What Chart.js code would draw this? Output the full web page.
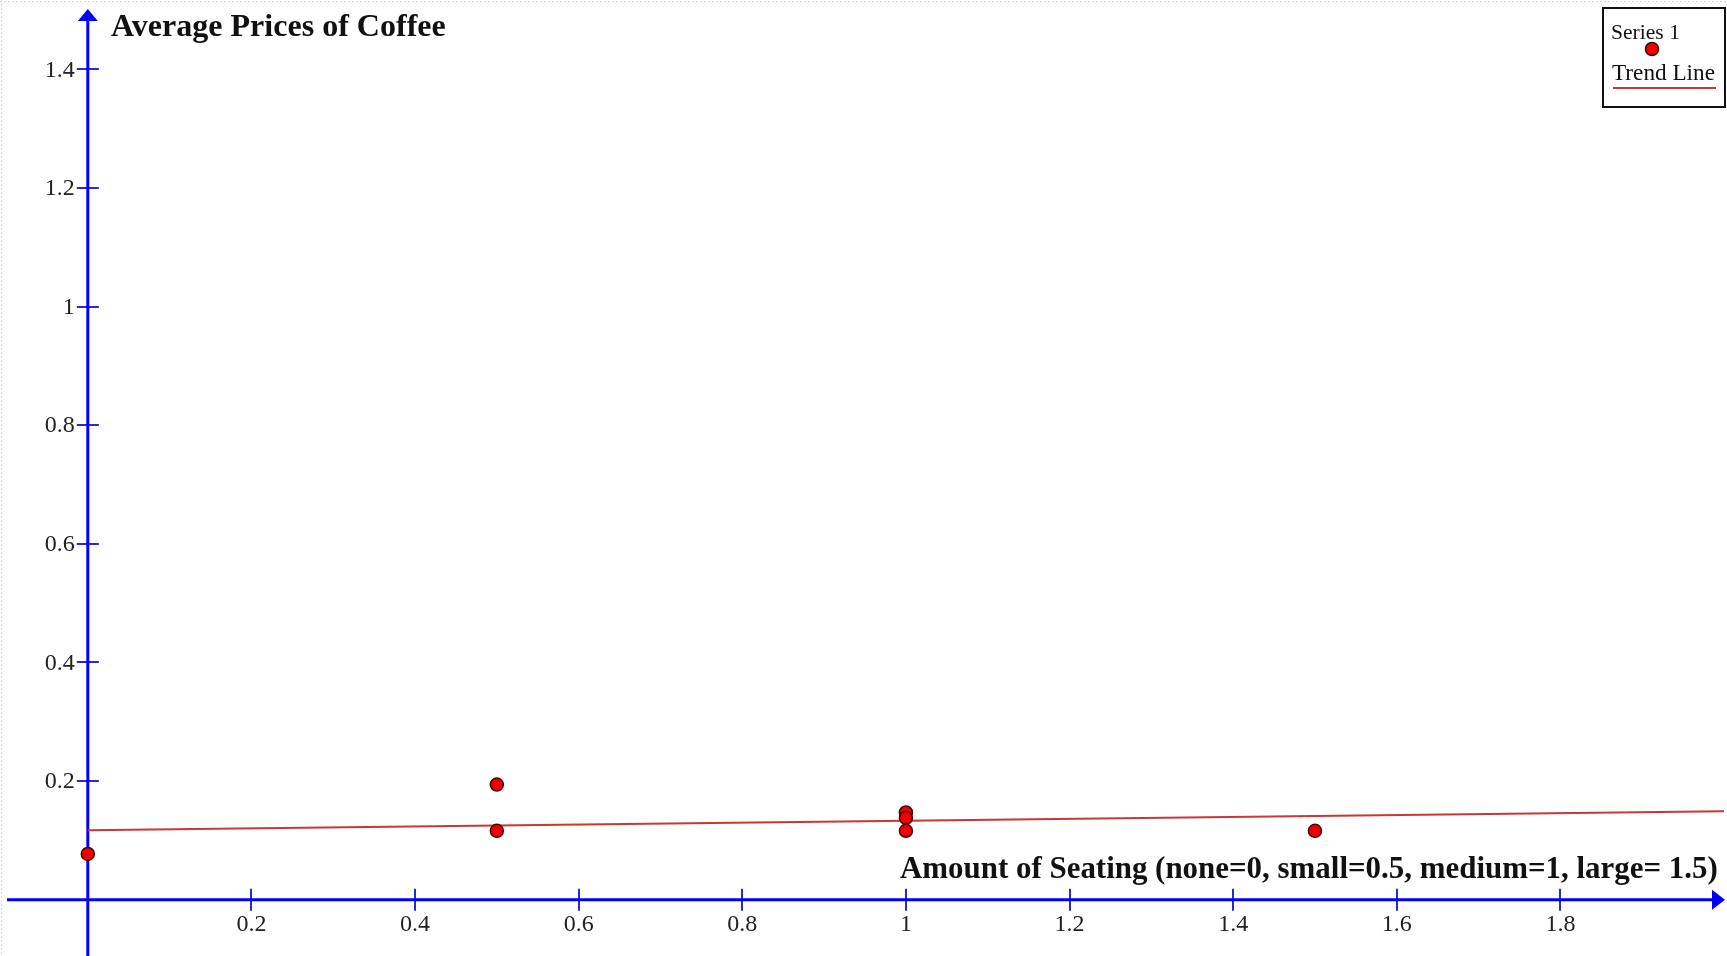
<!DOCTYPE html>
<html>
<head>
<meta charset="utf-8">
<script src="https://cdn.jsdelivr.net/npm/chart.js@4"></script>
<style>
html,body{margin:0;padding:0;background:#fff;overflow:hidden;}
#wrap{width:1727px;height:956px;position:relative;}
canvas{display:block;}
</style>
</head>
<body>
<div id="wrap"><canvas id="c" width="1727" height="956"></canvas></div>
<script>
// ---- data ----
const seatingX = [0, 0.5, 0.5, 1, 1, 1, 1.5];
const avgPrice = [0.077, 0.194, 0.116, 0.147, 0.138, 0.116, 0.116];
const trendX = [0, 2.0];
const trendY = [0.117, 0.149];
const xTicks = [0.2, 0.4, 0.6, 0.8, 1, 1.2, 1.4, 1.6, 1.8];
const yTicks = [0.2, 0.4, 0.6, 0.8, 1, 1.2, 1.4];
const xTickLabels = ['0.2', '0.4', '0.6', '0.8', '1', '1.2', '1.4', '1.6', '1.8'];
const yTickLabels = ['0.2', '0.4', '0.6', '0.8', '1', '1.2', '1.4'];
const yTitle = 'Average Prices of Coffee';
const xTitle = 'Amount of Seating (none=0, small=0.5, medium=1, large= 1.5)';
const seriesNames = ['Series 1', 'Trend Line'];

const pointData = seatingX.map((x, i) => ({x: x, y: avgPrice[i]}));
const trendData = trendX.map((x, i) => ({x: x, y: trendY[i]}));

const AXIS = '#0000ff';
const TICK = '#2a2ad0';
const PT_FILL = '#ee0000';
const PT_BORDER = '#4a0000';
const TREND = '#cc3636';
const SERIF = '"Liberation Serif", "Times New Roman", serif';

function fitFont(ctx, text, weight, width) {
  ctx.font = weight + ' 100px ' + SERIF;
  const w = ctx.measureText(text).width;
  return weight + ' ' + (100 * width / w).toFixed(2) + 'px ' + SERIF;
}

const axesPlugin = {
  id: 'customAxes',
  beforeDatasetsDraw(chart) {
    const ctx = chart.ctx;
    const xs = chart.scales.x, ys = chart.scales.y;
    const ca = chart.chartArea;
    const x0 = xs.getPixelForValue(0);
    const y0 = ys.getPixelForValue(0);
    ctx.save();
    // faint page border
    ctx.strokeStyle = '#d8d8d8';
    ctx.lineWidth = 1;
    ctx.setLineDash([2, 2]);
    ctx.beginPath();
    ctx.moveTo(0, 1.5); ctx.lineTo(1727, 1.5);
    ctx.moveTo(1.5, 0); ctx.lineTo(1.5, 956);
    ctx.stroke();
    ctx.setLineDash([]);

    // ticks
    ctx.strokeStyle = TICK;
    ctx.lineWidth = 2;
    ctx.beginPath();
    xTicks.forEach(v => {
      const px = Math.round(xs.getPixelForValue(v));
      ctx.moveTo(px, y0 - 11); ctx.lineTo(px, y0 + 11);
    });
    yTicks.forEach(v => {
      const py = Math.round(ys.getPixelForValue(v));
      ctx.moveTo(x0 - 11, py); ctx.lineTo(x0 + 11, py);
    });
    ctx.stroke();

    // axes lines
    const xEnd = xs.getPixelForValue(xs.max);
    const yEnd = ys.getPixelForValue(ys.max);
    ctx.strokeStyle = AXIS;
    ctx.lineWidth = 3;
    ctx.beginPath();
    ctx.moveTo(ca.left + 1, y0); ctx.lineTo(xEnd - 8, y0);
    ctx.moveTo(x0, ca.bottom); ctx.lineTo(x0, yEnd + 8);
    ctx.stroke();
    // arrow heads
    ctx.fillStyle = AXIS;
    ctx.beginPath();
    ctx.moveTo(xEnd + 1, y0);
    ctx.lineTo(xEnd - 12, y0 - 10);
    ctx.lineTo(xEnd - 12, y0 + 10);
    ctx.closePath();
    ctx.fill();
    ctx.beginPath();
    ctx.moveTo(x0, yEnd - 1);
    ctx.lineTo(x0 - 10, yEnd + 11);
    ctx.lineTo(x0 + 10, yEnd + 11);
    ctx.closePath();
    ctx.fill();

    // tick labels
    ctx.fillStyle = '#222';
    ctx.font = '24px ' + SERIF;
    ctx.textAlign = 'center';
    ctx.textBaseline = 'middle';
    xTicks.forEach((v, i) => {
      ctx.fillText(xTickLabels[i], xs.getPixelForValue(v), y0 + 25);
    });
    ctx.textAlign = 'right';
    yTicks.forEach((v, i) => {
      ctx.fillText(yTickLabels[i], x0 - 13, ys.getPixelForValue(v) + 1);
    });

    // axis titles
    ctx.fillStyle = '#111';
    ctx.textAlign = 'left';
    ctx.font = fitFont(ctx, yTitle, 'bold', 335);
    ctx.fillText(yTitle, 111, 28);
    ctx.font = fitFont(ctx, xTitle, 'bold', 818);
    ctx.fillText(xTitle, 900, 870);
    ctx.restore();
  },
  afterDatasetsDraw(chart) {
    const ctx = chart.ctx;
    const ds = chart.data.datasets;
    ctx.save();
    // legend box
    ctx.fillStyle = '#fff';
    ctx.fillRect(1603, 8, 122, 99);
    ctx.strokeStyle = '#111';
    ctx.lineWidth = 2;
    ctx.strokeRect(1603, 8, 122, 99);
    ctx.fillStyle = '#111';
    ctx.textAlign = 'left';
    ctx.textBaseline = 'middle';
    ctx.font = fitFont(ctx, ds[0].label, 'normal', 69);
    ctx.fillText(ds[0].label, 1611, 33);
    ctx.font = fitFont(ctx, ds[1].label, 'normal', 103);
    ctx.fillText(ds[1].label, 1612, 74);
    // marker
    ctx.beginPath();
    ctx.arc(1652, 49, 6.5, 0, Math.PI * 2);
    ctx.fillStyle = ds[0].backgroundColor;
    ctx.fill();
    ctx.strokeStyle = ds[0].borderColor;
    ctx.lineWidth = 1.5;
    ctx.stroke();
    // line
    ctx.strokeStyle = ds[1].borderColor;
    ctx.lineWidth = 2;
    ctx.beginPath();
    ctx.moveTo(1613, 88); ctx.lineTo(1716, 88);
    ctx.stroke();
    ctx.restore();
  }
};

new Chart(document.getElementById('c'), {
  type: 'scatter',
  data: {
    datasets: [
      {
        label: seriesNames[0],
        data: pointData,
        backgroundColor: PT_FILL,
        borderColor: PT_BORDER,
        borderWidth: 1.5,
        pointRadius: 6.5,
        clip: false
      },
      {
        label: seriesNames[1],
        data: trendData,
        showLine: true,
        borderColor: TREND,
        backgroundColor: TREND,
        borderWidth: 2,
        pointRadius: 0,
        clip: false
      }
    ]
  },
  options: {
    responsive: false,
    animation: false,
    layout: {autoPadding: false, padding: {left: 6, right: 3, top: 10, bottom: 0}},
    plugins: {legend: {display: false}, tooltip: {enabled: false}},
    scales: {
      x: {type: 'linear', min: -0.1, max: 2.0, display: false},
      y: {type: 'linear', min: -0.095, max: 1.5, display: false}
    }
  },
  plugins: [axesPlugin]
});
</script>
</body>
</html>
